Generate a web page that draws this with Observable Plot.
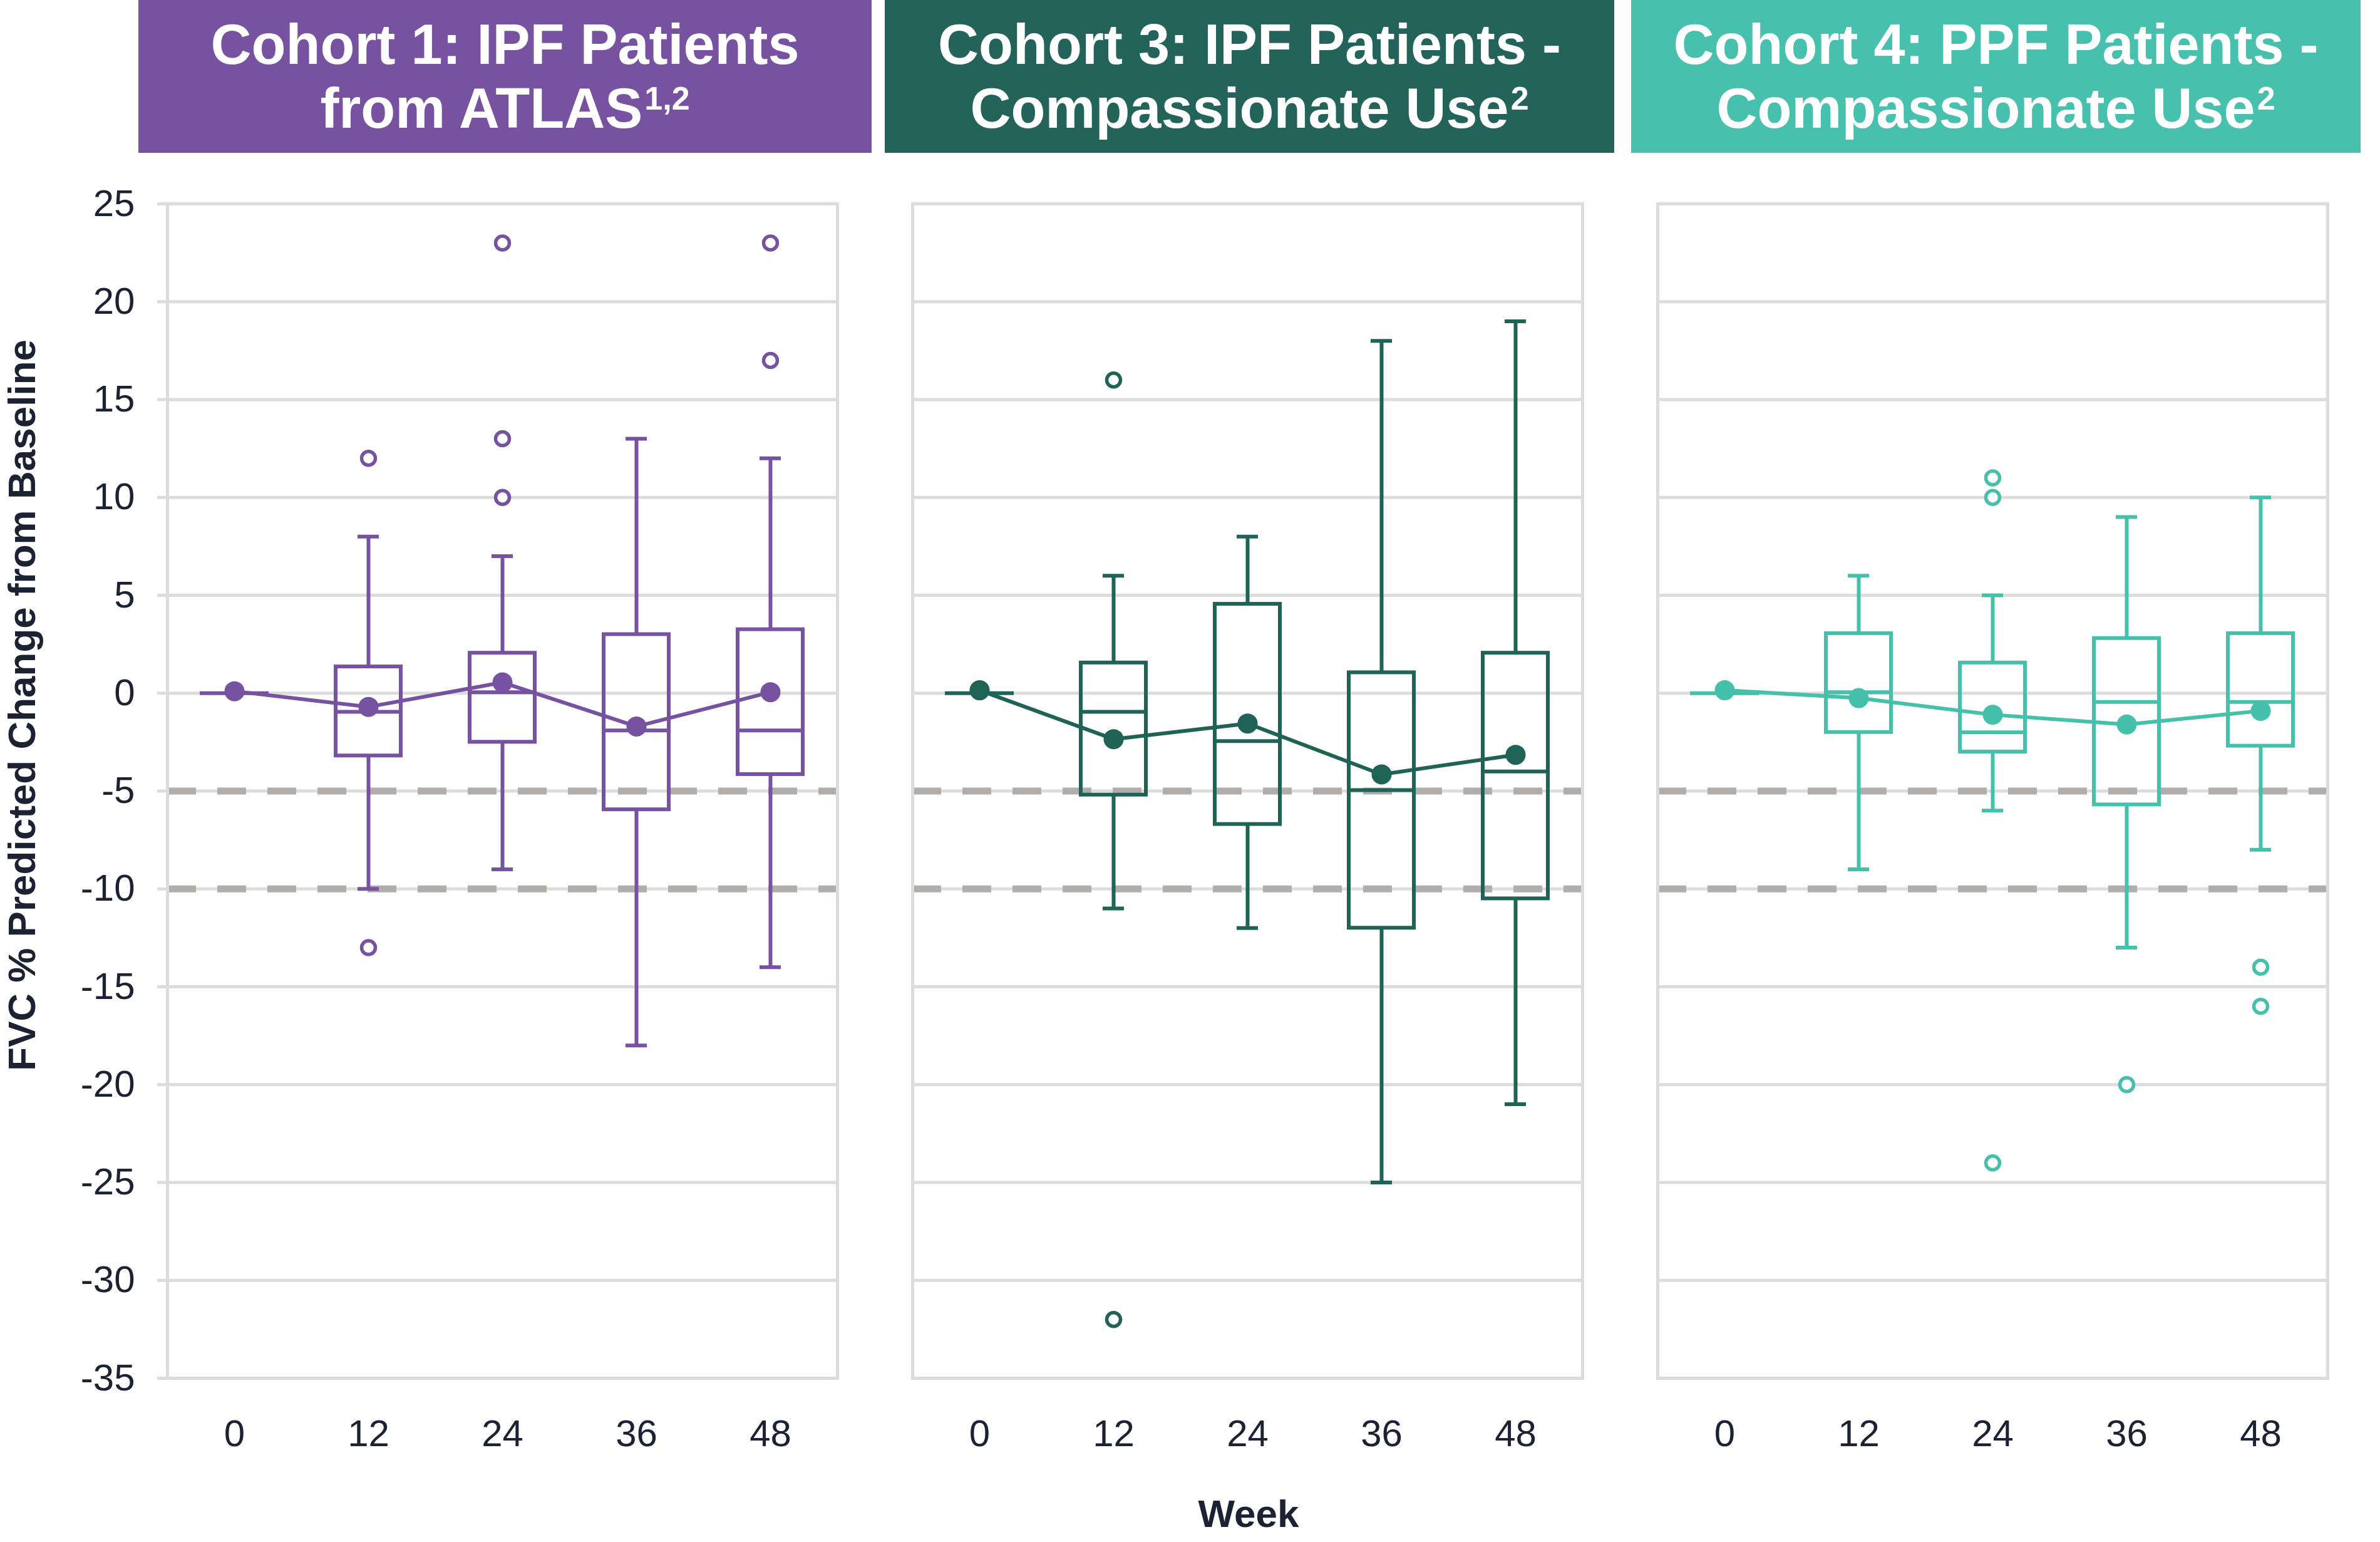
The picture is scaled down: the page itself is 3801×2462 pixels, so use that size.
<!DOCTYPE html>
<html>
<head>
<meta charset="utf-8">
<script src="https://cdn.jsdelivr.net/npm/d3@7"></script>
<script src="https://cdn.jsdelivr.net/npm/@observablehq/plot@0.6"></script>
<style>
  html, body { margin: 0; padding: 0; background: #ffffff; }
  #wrap { position: relative; width: 3801px; height: 2462px; overflow: hidden; font-family: "Liberation Sans", Arial, Helvetica, sans-serif; }
  #wrap svg.plot { position: absolute; left: 0; top: 0; }
  .hdr { position: absolute; top: 0; height: 244px; box-sizing: border-box; padding-top: 20px;
         color: #ffffff; font-weight: bold; font-size: 90px; line-height: 102px; text-align: center; white-space: nowrap; }
  .sup { font-size: 52px; position: relative; top: -29px; margin-left: 3px; }
  #titles { position: absolute; left: 0; top: 0; pointer-events: none; }
</style>
</head>
<body>
<div id="wrap">
  <div class="hdr" id="h1" style="left:221px;width:1171px;background:#7652a1;">Cohort 1: IPF Patients<br>from ATLAS<span class="sup">1,2</span></div>
  <div class="hdr" id="h2" style="left:1413px;width:1165px;background:#23635a;">Cohort 3: IPF Patients -<br>Compassionate Use<span class="sup">2</span></div>
  <div class="hdr" id="h3" style="left:2605px;width:1165px;background:#47c1ad;">Cohort 4: PPF Patients -<br>Compassionate Use<span class="sup">2</span></div>
</div>
<script>
// ---------- data ----------
const cohorts = ["Cohort 1", "Cohort 3", "Cohort 4"];
const weeks = [0, 12, 24, 36, 48];
const yTicks = [-35, -30, -25, -20, -15, -10, -5, 0, 5, 10, 15, 20, 25];
const thresholds = [-5, -10];

// Cohort 1: IPF Patients from ATLAS
const c1Low  = [0, -10, -9, -18, -14];
const c1Q1   = [0, -3.2, -2.5, -5.95, -4.15];
const c1Med  = [0, -0.95, 0.05, -1.9, -1.9];
const c1Q3   = [0, 1.35, 2.05, 3.0, 3.25];
const c1High = [0, 8, 7, 13, 12];
const c1Mean = [0.1, -0.7, 0.55, -1.7, 0.05];
const c1OutWeek  = [12, 12, 24, 24, 24, 48, 48];
const c1OutValue = [12, -13, 23, 13, 10, 23, 17];

// Cohort 3: IPF Patients - Compassionate Use
const c3Low  = [0, -11, -12, -25, -21];
const c3Q1   = [0, -5.2, -6.7, -12, -10.5];
const c3Med  = [0, -0.95, -2.45, -4.95, -4.0];
const c3Q3   = [0, 1.55, 4.55, 1.05, 2.05];
const c3High = [0, 6, 8, 18, 19];
const c3Mean = [0.15, -2.35, -1.55, -4.15, -3.15];
const c3OutWeek  = [12, 12];
const c3OutValue = [16, -32];

// Cohort 4: PPF Patients - Compassionate Use
const c4Low  = [0, -9, -6, -13, -8];
const c4Q1   = [0, -2.0, -3.0, -5.7, -2.7];
const c4Med  = [0, 0.05, -2.0, -0.45, -0.45];
const c4Q3   = [0, 3.05, 1.55, 2.8, 3.05];
const c4High = [0, 6, 5, 9, 10];
const c4Mean = [0.15, -0.25, -1.1, -1.6, -0.9];
const c4OutWeek  = [24, 24, 24, 36, 48, 48];
const c4OutValue = [11, 10, -24, -20, -14, -16];

// ---------- styles ----------
const cohortColors = ["#7652a1", "#1f6357", "#45c1ab"];
const gridColor = "#dcdcdc";
const textColor = "#1b2231";

// ---------- tables built from the arrays ----------
const stats = [
  [c1Low, c1Q1, c1Med, c1Q3, c1High, c1Mean],
  [c3Low, c3Q1, c3Med, c3Q3, c3High, c3Mean],
  [c4Low, c4Q1, c4Med, c4Q3, c4High, c4Mean]
];
const rows = [];
cohorts.forEach((c, ci) => {
  const [lo, q1, md, q3, hi, mn] = stats[ci];
  weeks.forEach((w, i) => rows.push({cohort: c, week: w, low: lo[i], q1: q1[i], med: md[i], q3: q3[i], high: hi[i], mean: mn[i]}));
});
const boxRows = rows.filter(d => d.week > 0);
const outliers = [];
[[c1OutWeek, c1OutValue], [c3OutWeek, c3OutValue], [c4OutWeek, c4OutValue]].forEach(([ws, vs], ci) => {
  ws.forEach((w, i) => outliers.push({cohort: cohorts[ci], week: w, value: vs[i]}));
});

const SW = 6;
const chart = Plot.plot({
  width: 3801,
  height: 2462,
  marginTop: 325,
  marginBottom: 262,
  marginLeft: 266,
  marginRight: 84,
  style: {fontFamily: "'Liberation Sans', Arial, Helvetica, sans-serif", background: "transparent", overflow: "visible"},
  fx: {domain: cohorts, paddingInner: 0.101, paddingOuter: 0, axis: null, label: null},
  x: {type: "band", domain: weeks, padding: 0, label: null},
  y: {domain: [-35, 25], label: null},
  color: {domain: cohorts, range: cohortColors},
  marks: [
    Plot.gridY({ticks: yTicks, stroke: gridColor, strokeOpacity: 1, strokeWidth: 5}),
    Plot.ruleY(thresholds, {stroke: "#b0adab", strokeWidth: 11, strokeDasharray: "46,34"}),
    Plot.frame({stroke: gridColor, strokeWidth: 5}),
    Plot.axisY({ticks: yTicks, tickFormat: d => String(d), tickSize: 16, tickPadding: 36, fontSize: 60,
                stroke: gridColor, strokeWidth: 5, fill: textColor, label: null}),
    Plot.axisX({tickSize: 0, tickPadding: 66, fontSize: 60, fill: textColor, label: null, tickFormat: d => String(d)}),
    Plot.ruleX(boxRows, {fx: "cohort", x: "week", y1: "q3", y2: "high", stroke: "cohort", strokeWidth: SW}),
    Plot.ruleX(boxRows, {fx: "cohort", x: "week", y1: "low", y2: "q1", stroke: "cohort", strokeWidth: SW}),
    Plot.tickY(boxRows, {fx: "cohort", x: "week", y: "high", stroke: "cohort", strokeWidth: SW, insetLeft: 90, insetRight: 90}),
    Plot.tickY(boxRows, {fx: "cohort", x: "week", y: "low", stroke: "cohort", strokeWidth: SW, insetLeft: 90, insetRight: 90}),
    Plot.barY(boxRows, {fx: "cohort", x: "week", y1: "q1", y2: "q3", fill: "none", stroke: "cohort", strokeWidth: SW, insetLeft: 55, insetRight: 55}),
    Plot.tickY(rows, {fx: "cohort", x: "week", y: "med", stroke: "cohort", strokeWidth: SW, insetLeft: 52, insetRight: 52}),
    Plot.line(rows, {fx: "cohort", x: "week", y: "mean", stroke: "cohort", strokeWidth: SW}),
    Plot.dot(rows, {fx: "cohort", x: "week", y: "mean", fill: "cohort", r: 16}),
    Plot.dot(outliers, {fx: "cohort", x: "week", y: "value", stroke: "cohort", fill: "white", r: 11, strokeWidth: 5.5})
  ]
});
chart.classList.add("plot");
const wrap = document.getElementById("wrap");
wrap.insertBefore(chart, wrap.firstChild);

// axis titles (real text)
const ns = "http://www.w3.org/2000/svg";
const t = document.createElementNS(ns, "svg");
t.setAttribute("id", "titles");
t.setAttribute("width", 3801);
t.setAttribute("height", 2462);
function addText(txt, x, y, rot) {
  const e = document.createElementNS(ns, "text");
  e.setAttribute("transform", `translate(${x},${y})` + (rot ? ` rotate(${rot})` : ""));
  e.setAttribute("text-anchor", "middle");
  e.setAttribute("font-family", "'Liberation Sans', Arial, Helvetica, sans-serif");
  e.setAttribute("font-weight", "bold");
  e.setAttribute("font-size", 62);
  e.setAttribute("fill", textColor);
  e.textContent = txt;
  t.appendChild(e);
}
addText("FVC % Predicted Change from Baseline", 56, 1126, -90);
addText("Week", 1994, 2438, 0);
wrap.appendChild(t);
</script>
</body>
</html>
